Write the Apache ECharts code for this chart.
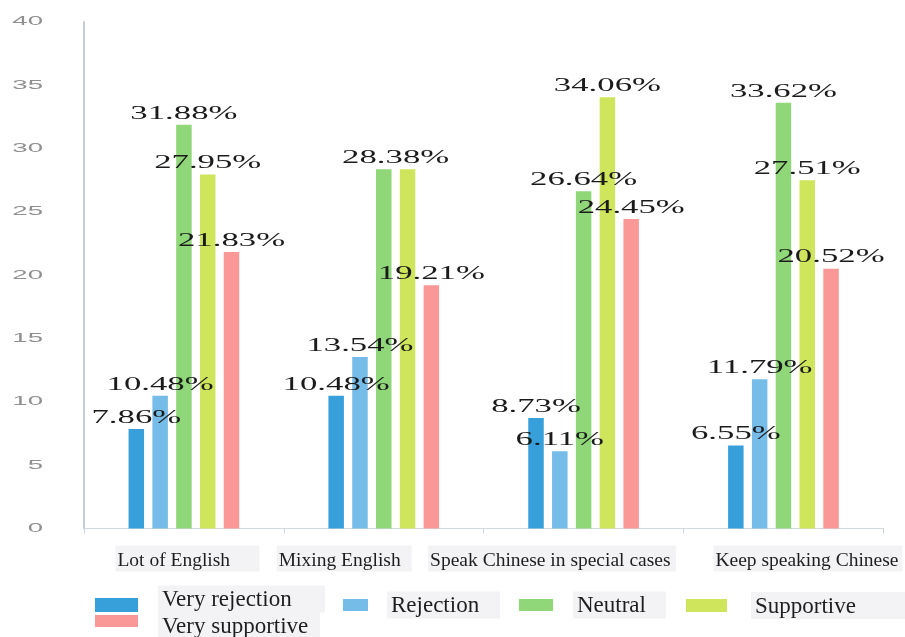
<!DOCTYPE html>
<html>
<head>
<meta charset="utf-8">
<script src="https://cdn.jsdelivr.net/npm/echarts@6/dist/echarts.min.js"></script>
<style>
  html, body { margin: 0; padding: 0; background: #ffffff; }
  #chart { width: 905px; height: 637px; }
</style>
</head>
<body>
<div id="chart"></div>
<script>
// Survey answers per attitude, in percent
const categories = ['Lot of English', 'Mixing English', 'Speak Chinese in special cases', 'Keep speaking Chinese'];
const seriesNames = ['Very rejection', 'Rejection', 'Neutral', 'Supportive', 'Very supportive'];
const veryRejection = [7.86, 10.48, 8.73, 6.55];
const rejection = [10.48, 13.54, 6.11, 11.79];
const neutral = [31.88, 28.38, 26.64, 33.62];
const supportive = [27.95, 28.38, 34.06, 27.51];
const verySupportive = [21.83, 19.21, 24.45, 20.52];
const yTicks = [0, 5, 10, 15, 20, 25, 30, 35, 40];

const allValues = [veryRejection, rejection, neutral, supportive, verySupportive];
const colors = ['#37a0da', '#76bce9', '#8fd779', '#cfe55c', '#f99897'];

// bar geometry
const BAR_WIDTH = 15.5;
const BAR_STEP = 23.8;
const LABEL_STRETCH = 1.93;

// value labels drawn above each bar, horizontally stretched
const labelData = [];
allValues.forEach((vals, s) => vals.forEach((v, c) => labelData.push([c, v, s])));

function renderValueLabel(params, api) {
  const c = api.value(0), v = api.value(1), s = api.value(2);
  // equal neighbouring bars share one label
  if (s > 0 && allValues[s - 1][c] === v) return null;
  let shift = s - 2;
  if (s < allValues.length - 1 && allValues[s + 1][c] === v) shift += 0.5;
  const pt = api.coord([c, v]);
  return {
    type: 'text',
    x: pt[0] + shift * BAR_STEP,
    y: pt[1] - 2,
    scaleX: LABEL_STRETCH,
    style: {
      text: v.toFixed(2) + '%',
      align: 'center',
      verticalAlign: 'bottom',
      font: '18px "Liberation Serif"',
      fill: '#1b1b1b'
    }
  };
}

// y-axis tick labels, stretched like the value labels
function renderYTick(params, api) {
  const v = api.value(1);
  const pt = api.coord([0, v]);
  const band = api.size([1, 0])[0];
  return {
    type: 'text',
    x: pt[0] - band / 2 - 41,
    y: pt[1],
    scaleX: 2.3,
    style: {
      text: String(v),
      align: 'right',
      verticalAlign: 'middle',
      font: '12px "Liberation Sans"',
      fill: '#8f8f8f'
    }
  };
}

// category label boxes: box width and horizontal shift from the band centre
const CAT_FONT_SIZE = 19.5;
const catBoxes = [
  { w: 144, shift: 3.5 },
  { w: 135, shift: -39.5 },
  { w: 248, shift: -31.5 },
  { w: 189, shift: 24.5 }
];
const measureCtx = document.createElement('canvas').getContext('2d');
measureCtx.font = CAT_FONT_SIZE + 'px "Liberation Serif"';
const catRich = {};
catBoxes.forEach((b, i) => {
  const textW = measureCtx.measureText(categories[i]).width;
  catRich['b' + i] = {
    fontFamily: 'Liberation Serif', fontSize: CAT_FONT_SIZE, lineHeight: 22, color: '#1e1e1e',
    backgroundColor: '#f3f3f6', padding: [5, Math.max(2, b.w - textW - 2), 1, 2]
  };
  catRich['s' + i] = { width: Math.abs(b.shift) * 2, fontSize: 10 };
});

// legend entries, each placed on its own
const legendBoxes = [
  { name: 'Very rejection', left: 95, top: 585.5, iw: 43, ih: 14, gap: 15, w: 167, pad: [0, 0, 12, 0] },
  { name: 'Rejection', left: 343, top: 591.5, iw: 25, ih: 12, gap: 14, w: 113, pad: [0, 0, 0, 0] },
  { name: 'Neutral', left: 519, top: 591.5, iw: 34, ih: 12, gap: 15, w: 93, pad: [0, 0, 0, 0] },
  { name: 'Supportive', left: 686, top: 592, iw: 41, ih: 13, gap: 19, w: 154, pad: [0, 0, 0, 0] },
  { name: 'Very supportive', left: 95, top: 612, iw: 43, ih: 12, gap: 15, w: 162, pad: [9, 0, 0, 0] }
];

const chart = echarts.init(document.getElementById('chart'));

const barSeries = seriesNames.map((name, i) => ({
  name: name,
  type: 'bar',
  data: allValues[i],
  barWidth: BAR_WIDTH,
  barGap: ((BAR_STEP - BAR_WIDTH) / BAR_WIDTH * 100).toFixed(2) + '%',
  itemStyle: { color: colors[i] },
  emphasis: { disabled: true }
}));

chart.setOption({
  animation: false,
  backgroundColor: '#ffffff',
  color: colors,
  grid: { left: 84, right: 18, top: 22, bottom: 108.5, containLabel: false },
  legend: legendBoxes.map(b => ({
    data: [b.name],
    left: b.left,
    top: b.top,
    padding: 0,
    icon: 'rect',
    itemWidth: b.iw,
    itemHeight: b.ih,
    selectedMode: false,
    formatter: n => '{g| }{t|' + n + '}',
    textStyle: {
      padding: b.pad,
      rich: {
        g: { width: b.gap, fontSize: 10 },
        t: {
          fontFamily: 'Liberation Serif', fontSize: 23, lineHeight: 25, color: '#1e1e1e',
          backgroundColor: '#f3f3f5', padding: [3, 0, 1, 4], width: b.w - 4, align: 'left'
        }
      }
    }
  })),
  xAxis: {
    type: 'category',
    data: categories,
    boundaryGap: true,
    axisLine: { show: true, lineStyle: { color: '#d3d9e1', width: 1 } },
    axisTick: { show: true, length: 5, lineStyle: { color: '#cdd3dc' } },
    axisLabel: {
      interval: 0,
      margin: 19,
      hideOverlap: false,
      formatter: (value, idx) => {
        const b = catBoxes[idx];
        const box = '{b' + idx + '|' + value + '}';
        if (b.shift >= 0) return '{s' + idx + '| }' + box;
        return box + '{s' + idx + '| }';
      },
      rich: catRich
    },
    splitLine: { show: false }
  },
  yAxis: {
    type: 'value',
    min: 0,
    max: 40,
    interval: 5,
    axisLine: { show: true, lineStyle: { color: '#c9cdd3', width: 2 } },
    axisTick: { show: false },
    axisLabel: { show: false },
    splitLine: { show: false }
  },
  series: barSeries.concat([
    {
      name: 'valueLabels',
      type: 'custom',
      silent: true,
      z: 10,
      renderItem: renderValueLabel,
      encode: { x: 0, y: 1 },
      data: labelData
    },
    {
      name: 'yTickLabels',
      type: 'custom',
      silent: true,
      z: 10,
      renderItem: renderYTick,
      encode: { x: 0, y: 1 },
      data: yTicks.map(t => [0, t])
    }
  ])
});
</script>
</body>
</html>
